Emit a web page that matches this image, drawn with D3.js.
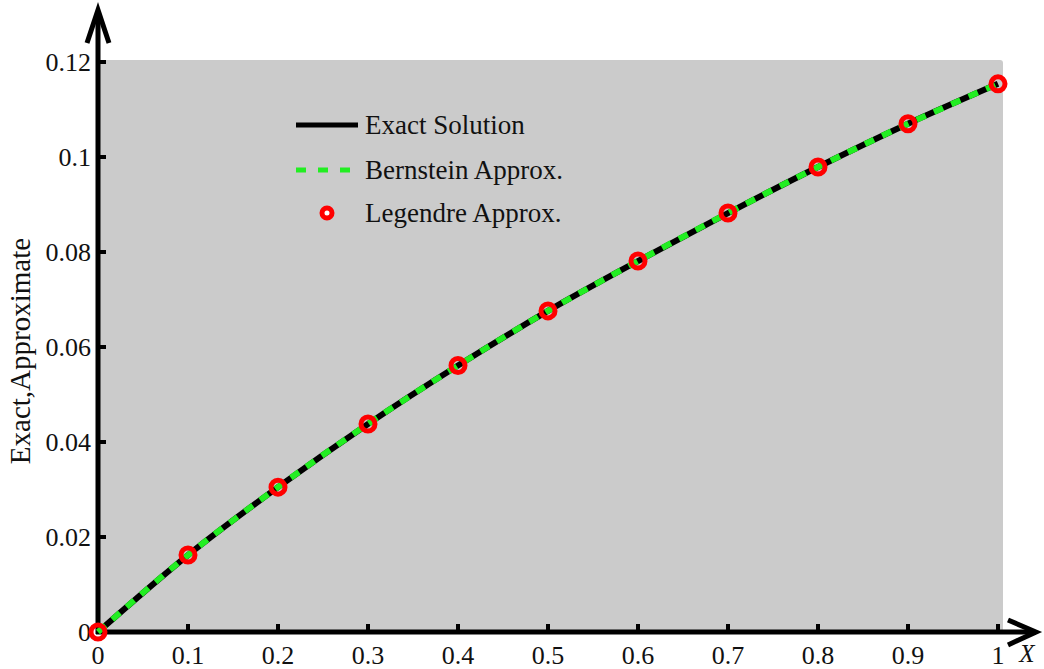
<!DOCTYPE html>
<html>
<head>
<meta charset="utf-8">
<script src="https://cdn.jsdelivr.net/npm/d3@7"></script>
<style>
  body { margin: 0; background: #fff; }
  text { font-family: "Liberation Serif", "DejaVu Serif", serif; fill: #111; }
</style>
</head>
<body>
<svg class="main"></svg>
<script>
const xs = [0, 0.1, 0.2, 0.3, 0.4, 0.5, 0.6, 0.7, 0.8, 0.9, 1];
const exact = [0, 0.0162, 0.0305, 0.0438, 0.0561, 0.0676, 0.0781, 0.0882, 0.0979, 0.107, 0.1154];
const bernstein = [0, 0.0162, 0.0305, 0.0438, 0.0561, 0.0676, 0.0781, 0.0882, 0.0979, 0.107, 0.1154];
const legendre = [0, 0.0162, 0.0305, 0.0438, 0.0561, 0.0676, 0.0781, 0.0882, 0.0979, 0.107, 0.1154];
const xTicks = [0, 0.1, 0.2, 0.3, 0.4, 0.5, 0.6, 0.7, 0.8, 0.9, 1];
const yTicks = [0, 0.02, 0.04, 0.06, 0.08, 0.1, 0.12];
const legendNames = ["Exact Solution", "Bernstein Approx.", "Legendre Approx."];

const width = 1044, height = 669;
const svg = d3.select("svg.main").attr("width", width).attr("height", height);

const x = d3.scaleLinear().domain([0, 1]).range([98, 998]);
const y = d3.scaleLinear().domain([0, 0.12]).range([632, 62]);

// gray plot background
svg.append("rect")
  .attr("x", 98).attr("y", 60)
  .attr("width", 1003 - 98).attr("height", 632 - 60)
  .attr("rx", 3)
  .style("fill", "#cbcbcb");

// ticks (inward)
svg.selectAll(".xt").data(xTicks.slice(1)).enter().append("line")
  .attr("x1", d => x(d)).attr("x2", d => x(d))
  .attr("y1", 632).attr("y2", 624)
  .style("stroke", "#000").style("stroke-width", 4);
svg.selectAll(".yt").data(yTicks.slice(1)).enter().append("line")
  .attr("x1", 98).attr("x2", 106)
  .attr("y1", d => y(d)).attr("y2", d => y(d))
  .style("stroke", "#000").style("stroke-width", 4);

// axes lines with arrowheads
svg.append("line").attr("x1", 98).attr("x2", 98).attr("y1", 634).attr("y2", 12)
  .style("stroke", "#000").style("stroke-width", 5);
svg.append("path").attr("d", "M87,43 L98,10 L109,43")
  .style("fill", "none").style("stroke", "#000").style("stroke-width", 5).style("stroke-linejoin", "miter");
svg.append("line").attr("x1", 96).attr("x2", 1034).attr("y1", 632).attr("y2", 632)
  .style("stroke", "#000").style("stroke-width", 5);
svg.append("path").attr("d", "M1008,620 L1036,632 L1008,645")
  .style("fill", "none").style("stroke", "#000").style("stroke-width", 5);

// tick labels
svg.selectAll(".xl").data(xTicks).enter().append("text")
  .attr("x", d => x(d)).attr("y", 664)
  .attr("text-anchor", "middle")
  .style("font-size", "26px")
  .text(d => d3.format("")(d));
svg.selectAll(".yl").data(yTicks).enter().append("text")
  .attr("x", 91).attr("y", d => y(d) + 9)
  .attr("text-anchor", "end")
  .style("font-size", "26px")
  .text(d => d3.format("")(d));

svg.append("text").attr("x", 1027).attr("y", 662)
  .attr("text-anchor", "middle")
  .style("font-size", "25px").style("font-style", "italic")
  .text("X");
svg.append("text")
  .attr("transform", "translate(30,351) rotate(-90)")
  .attr("text-anchor", "middle")
  .style("font-size", "29px")
  .text("Exact,Approximate");

// curves
const line = d3.line().x((d, i) => x(xs[i])).y(d => y(d)).curve(d3.curveMonotoneX);
svg.append("path").datum(exact).attr("d", line)
  .style("fill", "none").style("stroke", "#000").style("stroke-width", 6);
svg.append("path").datum(bernstein).attr("d", line)
  .style("fill", "none").style("stroke", "#22ee22").style("stroke-width", 6)
  .style("stroke-dasharray", "10,9");

// markers
svg.selectAll(".mk").data(legendre).enter().append("circle")
  .attr("cx", (d, i) => x(xs[i])).attr("cy", d => y(d))
  .attr("r", 7)
  .style("fill", "none").style("stroke", "#f00").style("stroke-width", 5);

// legend
const lg = svg.append("g");
lg.append("line").attr("x1", 296).attr("x2", 358).attr("y1", 125).attr("y2", 125)
  .style("stroke", "#000").style("stroke-width", 5);
lg.append("line").attr("x1", 296).attr("x2", 358).attr("y1", 170).attr("y2", 170)
  .style("stroke", "#22ee22").style("stroke-width", 5).style("stroke-dasharray", "10,12");
lg.append("circle").attr("cx", 327).attr("cy", 213).attr("r", 5)
  .style("fill", "#fff").style("stroke", "#f00").style("stroke-width", 5);
lg.selectAll(".lt").data(legendNames).enter().append("text")
  .attr("x", 365).attr("y", (d, i) => [134, 179, 222][i])
  .style("font-size", "27px")
  .text(d => d);
</script>
</body>
</html>
